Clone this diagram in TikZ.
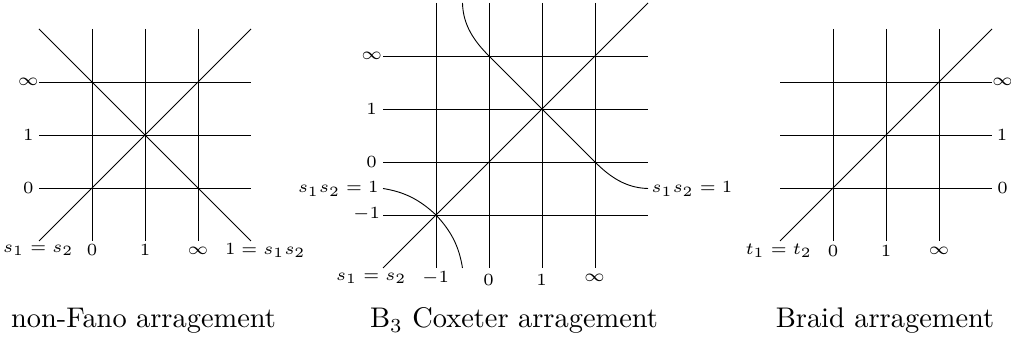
\documentclass[tikz,border=0pt]{standalone}
\begin{document}
\begin{tikzpicture}[x=0.352pt,y=-0.352pt,
  ln/.style={line width=0.32pt, black},
  lbl/.style={font=\fontsize{6.2}{7}\selectfont, inner sep=0pt, anchor=center},
  captxt/.style={font=\normalsize, inner sep=0pt, anchor=base}]
\useasboundingbox (0,0) rectangle (1011,338);

% ---------- non-Fano ----------
\foreach \xx in {92,145,198} \draw[ln] (\xx,29) -- (\xx,241);
\foreach \yy in {82,135,188} \draw[ln] (39,\yy) -- (251,\yy);
\coordinate (nfA) at (39,241); \coordinate (nfB) at (251,29);
\coordinate (nfC) at (39,29);  \coordinate (nfD) at (251,241);
\draw[ln] (nfA) -- (nfB);
\draw[ln] (nfC) -- (nfD);
\node[lbl] (nfLinf) at (28.3,82) {$\infty$};
\node[lbl] (nfL1) at (28.3,135) {$1$};
\node[lbl] (nfL0) at (28.3,188) {$0$};
\node[lbl] (nfBd) at (38.3,250.5) {$s_1=s_2$};
\node[lbl] (nfB0) at (92,250.5) {$0$};
\node[lbl] (nfB1) at (145,250.5) {$1$};
\node[lbl] (nfBinf) at (198,250.5) {$\infty$};
\node[lbl] (nfBa) at (265.3,250.5) {$1=s_1s_2$};
\node[captxt] (nfCap) at (143.5,328) {non-Fano arragement};

% ---------- B3 Coxeter ----------
\foreach \xx in {436,489,542,595} \draw[ln] (\xx,3) -- (\xx,268);
\foreach \yy in {56,109,162,215} \draw[ln] (383,\yy) -- (648,\yy);
\coordinate (bA) at (383,268); \coordinate (bB) at (648,3);
\draw[ln] (bA) -- (bB);
\coordinate (bP) at (489,56); \coordinate (bQ) at (595,162);
\coordinate (bT) at (462.5,3); \coordinate (bR) at (648,188.5);
\draw[ln] (bT) .. controls (463,25) and (474,41) .. (bP) -- (bQ)
  .. controls (610,177) and (626,188) .. (bR);
\coordinate (bL) at (383,188.5); \coordinate (bM) at (436,215); \coordinate (bD) at (462.5,268);
\draw[ln] (bL) .. controls (405,192) and (420,200) .. (bM)
  .. controls (451,231) and (459,246) .. (bD);
\node[lbl] (bLinf) at (371.7,56) {$\infty$};
\node[lbl] (bL1) at (371.5,109) {$1$};
\node[lbl] (bL0) at (371.7,162) {$0$};
\node[lbl] (bLs) at (338.3,189) {$s_1s_2=1$};
\node[lbl] (bLm) at (366.5,214.5) {$-1$};
\node[lbl] (bRs) at (692,189) {$s_1s_2=1$};
\node[lbl] (bBd) at (371.3,278) {$s_1=s_2$};
\node[lbl] (bBm) at (435.5,277.8) {$-1$};
\node[lbl] (bB0) at (488.5,280.3) {$0$};
\node[lbl] (bB1) at (541.7,280.3) {$1$};
\node[lbl] (bBinf) at (594.5,277.7) {$\infty$};
\node[captxt] (bCap) at (514,328) {B$_3$ Coxeter arragement};

% ---------- Braid ----------
\foreach \xx in {833,886,939} \draw[ln] (\xx,29) -- (\xx,241);
\foreach \yy in {82,135,188} \draw[ln] (780,\yy) -- (992,\yy);
\coordinate (brA) at (780,241); \coordinate (brB) at (992,29);
\draw[ln] (brA) -- (brB);
\node[lbl] (brRinf) at (1002.5,82) {$\infty$};
\node[lbl] (brR1) at (1002.2,135) {$1$};
\node[lbl] (brR0) at (1002.5,188) {$0$};
\node[lbl] (brBd) at (778.8,251) {$t_1=t_2$};
\node[lbl] (brB0) at (833,251) {$0$};
\node[lbl] (brB1) at (886,251) {$1$};
\node[lbl] (brBinf) at (939,251) {$\infty$};
\node[captxt] (brCap) at (885,328) {Braid arragement};
\end{tikzpicture}
\end{document}
